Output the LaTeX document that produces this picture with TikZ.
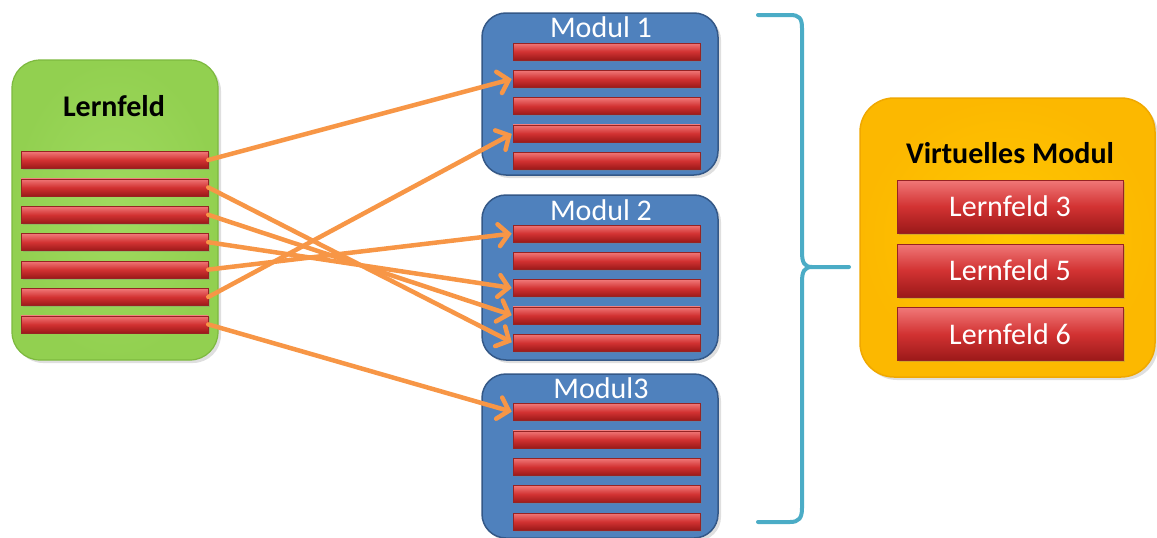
\documentclass[tikz,border=0pt]{standalone}
\usepackage{fontspec}
\setmainfont{Carlito}
\usetikzlibrary{arrows.meta,shadows}
\definecolor{barlight}{RGB}{240,120,120}
\definecolor{barmid}{RGB}{210,50,50}
\definecolor{bardark}{RGB}{155,25,25}
\definecolor{barborder}{RGB}{150,35,35}
\definecolor{lfgreen}{RGB}{146,208,80}
\definecolor{lfgreenlight}{RGB}{160,218,95}
\definecolor{lfgreenedge}{RGB}{125,185,62}
\definecolor{modblue}{RGB}{79,129,189}
\definecolor{modblueedge}{RGB}{52,88,135}
\definecolor{vyellow}{RGB}{255,200,0}
\definecolor{vyellowout}{RGB}{252,184,0}
\definecolor{vyellowedge}{RGB}{240,168,0}
\definecolor{arroworange}{RGB}{247,150,70}
\definecolor{braceblue}{RGB}{75,172,198}
\begin{document}
\begin{tikzpicture}[x=1pt,y=-1pt,
  bar/.style={draw=barborder, line width=0.6pt, top color=barlight, bottom color=bardark, middle color=barmid,
    minimum width=187pt, minimum height=17pt, inner sep=0pt,
    drop shadow={shadow xshift=1.5pt, shadow yshift=-1.5pt, opacity=0.3}},
  bigbar/.style={bar, minimum width=226pt, minimum height=53pt, text=white, font=\fontsize{30}{32}\selectfont},
  greenbox/.style={draw=lfgreenedge, line width=1.2pt, inner color=lfgreenlight, outer color=lfgreen, rounded corners=28pt, inner sep=0pt,
    minimum width=206pt, minimum height=300pt, drop shadow={shadow xshift=3pt, shadow yshift=-3pt, opacity=0.25}},
  modbox/.style={draw=modblueedge, line width=1.5pt, fill=modblue, rounded corners=24pt, inner sep=0pt,
    minimum width=236pt, drop shadow={shadow xshift=3pt, shadow yshift=-3pt, opacity=0.25}},
  yellowbox/.style={draw=vyellowedge, line width=1.5pt, inner color=vyellow, outer color=vyellowout, rounded corners=34pt, inner sep=0pt,
    minimum width=295pt, minimum height=279pt, drop shadow={shadow xshift=3pt, shadow yshift=-3pt, opacity=0.25}},
  boldtitle/.style={font=\bfseries\fontsize{30}{32}\selectfont, text=black, inner sep=0pt},
  modtitle/.style={font=\fontsize{30}{32}\selectfont, text=white, inner sep=0pt},
  link/.style={draw=arroworange, line width=4.5pt, line cap=round, shorten >=1pt,
    -{Straight Barb[length=10pt,width=22pt,line cap=round]}},
  brace/.style={draw=braceblue, line width=4pt, line cap=round, line join=round}
]
\useasboundingbox (0,0) rectangle (1157,538);

% Lernfeld
\node[greenbox] (LF) at (115,210) {};
\node[boldtitle] (LFt) at (114,106) {Lernfeld};
\foreach \i in {1,...,7} {
  \node[bar] (L\i) at (114.5,{160+27.4*(\i-1)}) {};
}

% Modules
\node[modbox, minimum height=162pt] (M1) at (600,94) {};
\node[modbox, minimum height=165pt] (M2) at (600,277.5) {};
\node[modbox, minimum height=164pt] (M3) at (600,456) {};
\node[modtitle] (M1t) at (601,27) {Modul 1};
\node[modtitle] (M2t) at (601,210) {Modul 2};
\node[modtitle] (M3t) at (601,388) {Modul3};
\foreach \i in {1,...,5} {
  \node[bar] (A\i) at (606.5,{51.5+27.3*(\i-1)}) {};
  \node[bar] (B\i) at (606.5,{233.5+27.3*(\i-1)}) {};
  \node[bar] (C\i) at (606.5,{412+27.4*(\i-1)}) {};
}

% Arrows
\draw[link] (L1.east) -- (A2.west);
\draw[link] (L2.east) -- (B5.west);
\draw[link] (L3.east) -- (B4.west);
\draw[link] (L4.east) -- (B3.west);
\draw[link] (L5.east) -- (B1.west);
\draw[link] (L6.east) -- (A4.west);
\draw[link] (L7.east) -- (C1.west);

% Brace
\coordinate (btop) at (758,15);
\coordinate (btip) at (849,267);
\coordinate (bbot) at (758,522);
\draw[brace] (btop) -- (790,15) .. controls (799,15) and (802,18) .. (802,28)
  -- (802,252) .. controls (802,262) and (804,267) .. (812,267) -- (btip);
\draw[brace] (812,267) .. controls (804,267) and (802,272) .. (802,282)
  -- (802,508) .. controls (802,518) and (799,522) .. (790,522) -- (bbot);

% Virtuelles Modul
\node[yellowbox] (VM) at (1007.5,237.5) {};
\node[boldtitle] (VMt) at (1010,153) {Virtuelles Modul};
\node[bigbar] (V1) at (1010,206.5) {Lernfeld 3};
\node[bigbar] (V2) at (1010,270.5) {Lernfeld 5};
\node[bigbar] (V3) at (1010,334) {Lernfeld 6};
\end{tikzpicture}
\end{document}
